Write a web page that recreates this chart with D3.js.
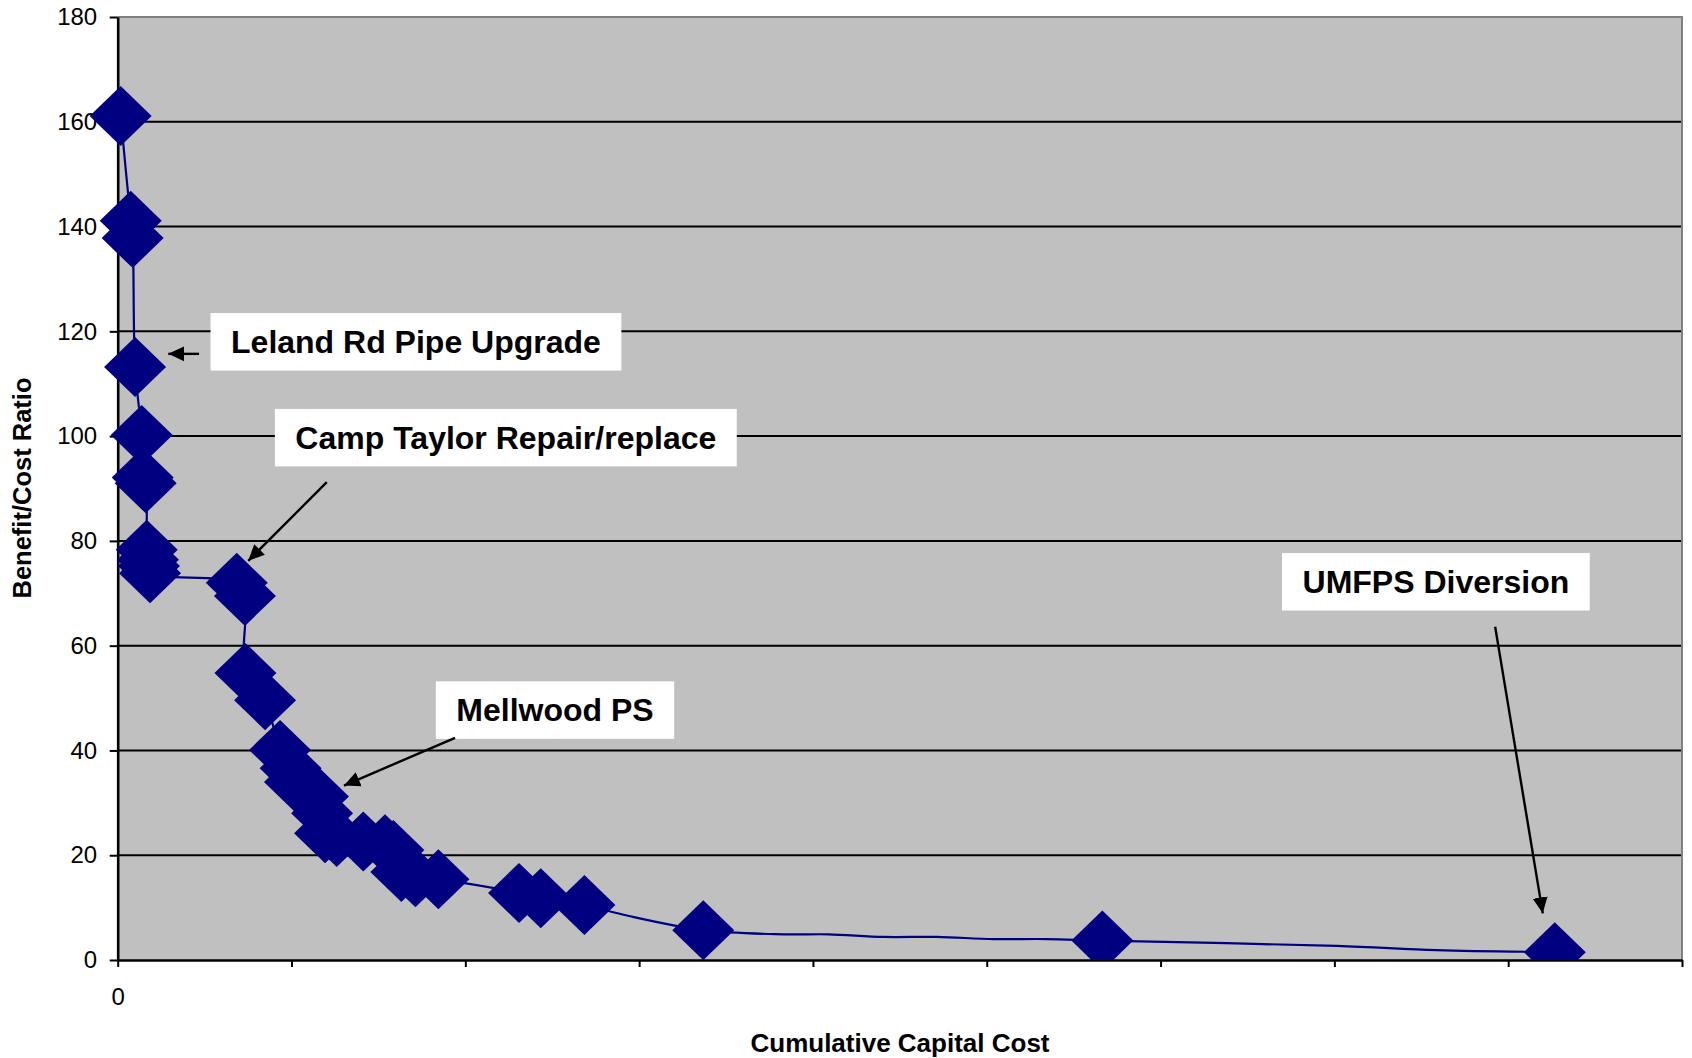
<!DOCTYPE html>
<html>
<head>
<meta charset="utf-8">
<script src="https://cdn.jsdelivr.net/npm/d3@7/dist/d3.min.js"></script>
<style>
  html, body { margin: 0; padding: 0; background: #ffffff; }
  svg { display: block; }
</style>
</head>
<body>
<svg id="chart" width="1692" height="1058"></svg>
<script>
// ---------------- DATA ----------------
// Cumulative capital cost (arbitrary units: one axis tick = 100)
const cost = [1.7, 7.5, 8.6, 10.0, 13.8, 14.4, 16.1, 16.7, 17.4, 18.0, 18.6,
  68.5, 73.2, 73.5, 84.8, 93.4, 99.5, 102.0, 115.2, 117.6, 119.3, 126.0,
  141.3, 153.8, 158.6, 163.2, 171.3, 184.5, 230.9, 243.4, 268.5, 292.9,
  336.9, 383.0, 408.9, 440.5, 471.2, 503.8, 534.5, 566.5, 701.4, 758.9, 826.8];
// Benefit / cost ratio
const ratio = [161.1, 141.1, 137.8, 113.2, 100.2, 92.1, 91.0, 78.3, 76.4, 75.2, 73.8,
  72.0, 69.5, 54.8, 49.6, 40.1, 36.6, 34.0, 31.2, 28.0, 24.2, 23.5,
  22.6, 22.1, 21.0, 16.8, 15.8, 15.4, 12.8, 11.8, 10.5, 8.5,
  5.7, 4.9, 4.9, 4.4, 4.4, 4.0, 4.0, 3.7, 2.7, 1.9, 1.5];
// 1 = point drawn with a diamond marker, 0 = line vertex only
const hasMarker = [1,1,1,1,1,1,1,1,1,1,1,
  1,1,1,1,1,1,1,1,1,1,1,
  1,1,1,1,1,1,1,1,1,0,
  1,0,0,0,0,0,0,1,0,0,1];

const yTicks = [0, 20, 40, 60, 80, 100, 120, 140, 160, 180];
const yTickLabels = ["0", "20", "40", "60", "80", "100", "120", "140", "160", "180"];
const xTicks = [0, 100, 200, 300, 400, 500, 600, 700, 800, 900];
const xTickLabels = ["0", "", "", "", "", "", "", "", "", ""];

const xTitle = "Cumulative Capital Cost";
const yTitle = "Benefit/Cost Ratio";

// Annotation labels (anchors in data units)
const annoText = ["Leland Rd Pipe Upgrade", "Camp Taylor Repair/replace", "Mellwood PS", "UMFPS Diversion"];
const annoCenterX = [171.6, 223.3, 251.6, 758.4];
const annoCenterY = [118.0, 99.7, 47.7, 72.2];
const arrowFromX = [46.8, 120.3, 194.1, 792.5];
const arrowFromY = [115.7, 91.2, 42.4, 63.6];
const arrowToX = [29.1, 75.1, 130.2, 819.9];
const arrowToY = [115.7, 76.2, 33.3, 8.9];

// ---------------- LAYOUT ----------------
const W = 1692, H = 1058;
const plot = { left: 117.7, right: 1682, top: 17, bottom: 960 };
const FONT = "'Liberation Sans', Arial, Helvetica, sans-serif";
const NAVY = "#000080";

const svg = d3.select("#chart");

const x = d3.scaleLinear().domain([0, 900]).range([plot.left, plot.right]);
const y = d3.scaleLinear().domain([0, 180]).range([plot.bottom, plot.top]);

const defs = svg.append("defs");
defs.append("clipPath").attr("id", "clipBottom")
  .append("rect").attr("x", 0).attr("y", 0).attr("width", W).attr("height", plot.bottom);
defs.append("marker")
  .attr("id", "arrowHead")
  .attr("markerUnits", "userSpaceOnUse")
  .attr("viewBox", "0 -8 17 16")
  .attr("refX", 16).attr("refY", 0)
  .attr("markerWidth", 17).attr("markerHeight", 16)
  .attr("orient", "auto")
  .append("path").attr("d", "M0,-7.5L16,0L0,7.5Z").attr("fill", "#000");

// plot background
svg.append("rect")
  .attr("x", plot.left).attr("y", plot.top)
  .attr("width", plot.right - plot.left).attr("height", plot.bottom - plot.top)
  .attr("fill", "#c0c0c0");

// horizontal gridlines
svg.append("g").selectAll("line")
  .data(yTicks.filter(v => v > 0 && v < 180))
  .join("line")
  .attr("x1", plot.left).attr("x2", plot.right)
  .attr("y1", d => y(d)).attr("y2", d => y(d))
  .attr("stroke", "#000").attr("stroke-width", 2);

// plot border (top & right, gray)
svg.append("path")
  .attr("d", `M${plot.left},${plot.top}H${plot.right}V${plot.bottom}`)
  .attr("fill", "none").attr("stroke", "#808080").attr("stroke-width", 2);

// axes
const yAxis = d3.axisLeft(y)
  .tickValues(yTicks)
  .tickFormat((d, i) => yTickLabels[i])
  .tickSize(8).tickSizeOuter(0).tickPadding(12.5);
const gy = svg.append("g").attr("transform", `translate(${plot.left},0)`).call(yAxis);

const xAxis = d3.axisBottom(x)
  .tickValues(xTicks)
  .tickFormat((d, i) => xTickLabels[i])
  .tickSize(7).tickSizeOuter(0).tickPadding(21);
const gx = svg.append("g").attr("transform", `translate(0,${plot.bottom})`).call(xAxis);

[gx, gy].forEach(g => {
  g.select(".domain").attr("stroke", "#000").attr("stroke-width", 2.6);
  g.selectAll(".tick line").attr("stroke", "#000").attr("stroke-width", 2);
  g.selectAll(".tick text")
    .attr("fill", "#000")
    .style("font-family", FONT)
    .style("font-size", "24px");
});

// series line (smoothed)
const pts = cost.map((c, i) => ({ c, r: ratio[i], m: hasMarker[i] }));
const line = d3.line()
  .x(d => x(d.c)).y(d => y(d.r))
  .curve(d3.curveCatmullRom.alpha(0.5));
svg.append("path")
  .datum(pts)
  .attr("d", line)
  .attr("fill", "none")
  .attr("stroke", NAVY)
  .attr("stroke-width", 2.2);

// diamond markers
svg.append("g").attr("clip-path", "url(#clipBottom)")
  .selectAll("path")
  .data(pts.filter(d => d.m === 1))
  .join("path")
  .attr("transform", d => `translate(${x(d.c)},${y(d.r)})`)
  .attr("d", "M0,-30L31,0L0,30L-31,0Z")
  .attr("fill", NAVY);

// axis titles
svg.append("text")
  .attr("x", 900).attr("y", 1052)
  .attr("text-anchor", "middle")
  .style("font-family", FONT).style("font-weight", "bold").style("font-size", "26px")
  .text(xTitle);

svg.append("text")
  .attr("transform", "translate(30.5,488) rotate(-90)")
  .attr("text-anchor", "middle")
  .style("font-family", FONT).style("font-weight", "bold").style("font-size", "25.5px")
  .text(yTitle);

// annotations
const gA = svg.append("g");
annoText.forEach((t, i) => {
  const cx = x(annoCenterX[i]), cy = y(annoCenterY[i]);
  const g = gA.append("g");
  const rect = g.append("rect").attr("fill", "#fff");
  const txt = g.append("text")
    .attr("x", cx).attr("y", cy)
    .attr("dy", "0.35em")
    .attr("text-anchor", "middle")
    .style("font-family", FONT).style("font-weight", "bold").style("font-size", "32px")
    .attr("fill", "#000")
    .text(t);
  const tw = txt.node().getComputedTextLength();
  const bw = tw + 41, bh = 57.5;
  rect.attr("x", cx - bw / 2).attr("y", cy - bh / 2).attr("width", bw).attr("height", bh);
  gA.append("line")
    .attr("x1", x(arrowFromX[i])).attr("y1", y(arrowFromY[i]))
    .attr("x2", x(arrowToX[i])).attr("y2", y(arrowToY[i]))
    .attr("stroke", "#000").attr("stroke-width", 2.4)
    .attr("marker-end", "url(#arrowHead)");
});
</script>
</body>
</html>
